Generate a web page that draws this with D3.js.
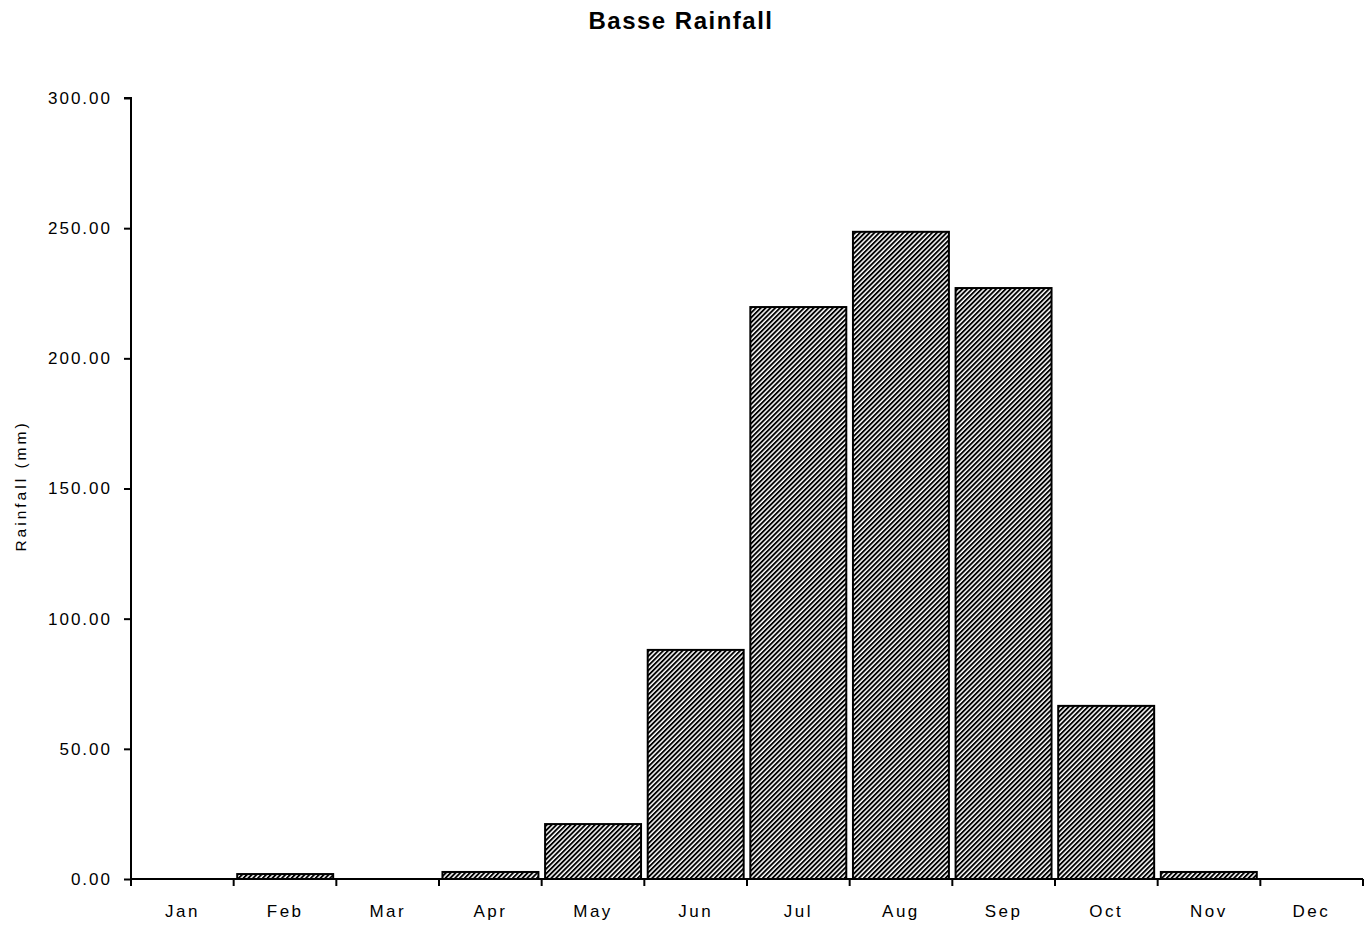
<!DOCTYPE html>
<html>
<head>
<meta charset="utf-8">
<script src="https://cdn.jsdelivr.net/npm/d3@7"></script>
<style>
  html, body { margin: 0; padding: 0; background: #fff; }
  svg { display: block; }
  text { font-family: Arial, "Liberation Sans", sans-serif; fill: #000; }
</style>
</head>
<body>
<svg id="chart" width="1371" height="927"></svg>
<script>
// Monthly rainfall at Basse (mm)
const months = ["Jan", "Feb", "Mar", "Apr", "May", "Jun", "Jul", "Aug", "Sep", "Oct", "Nov", "Dec"];
const rainfall = [0, 1.9, 0, 2.7, 21.1, 88.0, 219.7, 248.6, 227.0, 66.5, 2.7, 0];
const yTicks = [0, 50, 100, 150, 200, 250, 300];

const svg = d3.select("#chart");
const margin = { left: 131, right: 8, top: 98, bottom: 48 };
const W = 1371, H = 927;

const x = d3.scaleBand()
  .domain(months)
  .range([margin.left, W - margin.right])
  .paddingInner(0.065)
  .paddingOuter(0.035);

const y = d3.scaleLinear()
  .domain([0, 300])
  .range([H - margin.bottom, margin.top]);

// Diagonal hatch fill
const defs = svg.append("defs");
defs.append("pattern")
  .attr("id", "hatch")
  .attr("patternUnits", "userSpaceOnUse")
  .attr("width", 3.4)
  .attr("height", 3.4)
  .attr("patternTransform", "rotate(45)")
  .append("rect")
  .attr("width", 1.9)
  .attr("height", 3.4)
  .attr("fill", "#000");

// Title
svg.append("text")
  .attr("x", 681)
  .attr("y", 29)
  .attr("text-anchor", "middle")
  .style("font-size", "24px")
  .style("font-weight", "bold")
  .style("letter-spacing", "1.5px")
  .text("Basse Rainfall");

// Bars
svg.append("g")
  .selectAll("rect")
  .data(months.map((m, i) => ({ m, v: rainfall[i] })).filter(d => d.v > 0))
  .join("rect")
  .attr("x", d => x(d.m))
  .attr("width", x.bandwidth())
  .attr("y", d => y(d.v))
  .attr("height", d => y(0) - y(d.v))
  .attr("fill", "url(#hatch)")
  .attr("stroke", "#000")
  .attr("stroke-width", 2);

// Y axis
const yAxis = svg.append("g")
  .attr("transform", `translate(${margin.left},0)`)
  .call(d3.axisLeft(y).tickValues(yTicks).tickFormat(d3.format(".2f")).tickSize(7).tickPadding(12));
yAxis.select(".domain").attr("stroke", "#000").attr("stroke-width", 2).attr("d", `M-7,${y(300)}H0V${y(0)}`);
yAxis.selectAll(".tick line").attr("stroke", "#000").attr("stroke-width", 2);
yAxis.selectAll(".tick text")
  .style("font-size", "17px")
  .style("letter-spacing", "2px")
  .style("font-family", "Arial, 'Liberation Sans', sans-serif")
  .attr("fill", "#000");

// X axis with ticks at category boundaries
const xBase = y(0);
const xg = svg.append("g");
const x0 = margin.left;
const xEnd = W - margin.right;
xg.append("line")
  .attr("x1", x0).attr("x2", xEnd)
  .attr("y1", xBase).attr("y2", xBase)
  .attr("stroke", "#000").attr("stroke-width", 2);
const bounds = d3.range(months.length + 1).map(i => x0 + i * (xEnd - x0) / months.length);
xg.selectAll("line.tk")
  .data(bounds)
  .join("line")
  .attr("class", "tk")
  .attr("x1", d => d).attr("x2", d => d)
  .attr("y1", xBase).attr("y2", xBase + 7)
  .attr("stroke", "#000").attr("stroke-width", 2);
xg.selectAll("text")
  .data(months)
  .join("text")
  .attr("x", d => x(d) + x.bandwidth() / 2)
  .attr("y", 917)
  .attr("text-anchor", "middle")
  .style("font-size", "17px")
  .style("letter-spacing", "2.5px")
  .text(d => d);

// Y axis title
svg.append("text")
  .attr("transform", "translate(26,486) rotate(-90)")
  .attr("text-anchor", "middle")
  .style("font-size", "15.5px")
  .style("letter-spacing", "3px")
  .text("Rainfall (mm)");
</script>
</body>
</html>
